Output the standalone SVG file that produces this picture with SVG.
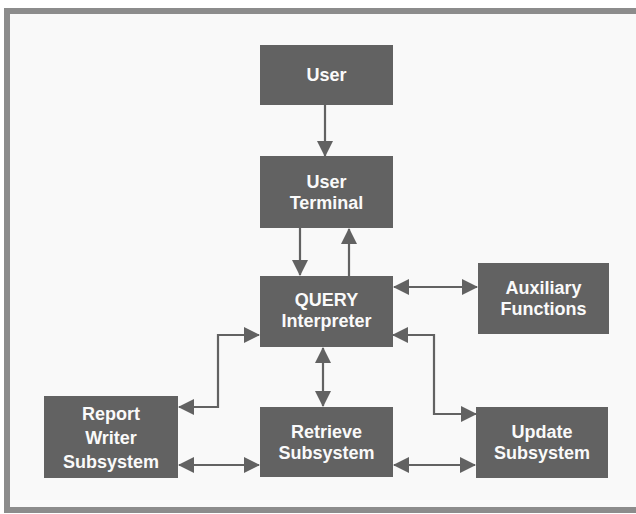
<svg xmlns="http://www.w3.org/2000/svg" width="636" height="514" viewBox="0 0 636 514">
<style>
.box{fill:#626262;}
.lbl{font-family:"Liberation Sans",Arial,sans-serif;font-weight:bold;font-size:18px;fill:#fafafa;text-anchor:middle;}
.c{fill:none;stroke:#626262;stroke-width:2.2;marker-end:url(#ah);}
.b{marker-start:url(#ah);}
</style>
<defs>
<marker id="ah" markerUnits="userSpaceOnUse" markerWidth="16" markerHeight="16" refX="15" refY="8" orient="auto-start-reverse">
<path d="M0,0 L16,8 L0,16 z" fill="#626262"/>
</marker>
</defs>
<rect x="0" y="0" width="636" height="514" fill="#ffffff"/>
<rect x="7" y="11" width="640" height="499" fill="#f9f9f9" stroke="#8c8c8c" stroke-width="6"/>
<g id="connectors">
<path class="c" d="M325,105 V156"/>
<path class="c" d="M300,228 V275"/>
<path class="c" d="M349,276 V229"/>
<path class="c b" d="M394,287 H477"/>
<path class="c b" d="M259,335 H218 V407 H179"/>
<path class="c b" d="M393,335 H434 V414 H476"/>
<path class="c b" d="M323,348 V406"/>
<path class="c b" d="M179,465 H259"/>
<path class="c b" d="M394,465 H475"/>
</g>
<g id="user"><rect class="box" x="260" y="45" width="133" height="60"/><text class="lbl" x="326.5" y="81">User</text></g>
<g id="terminal"><rect class="box" x="260" y="156" width="133" height="72"/><text class="lbl" x="326.5" y="188">User</text><text class="lbl" x="326.5" y="209">Terminal</text></g>
<g id="query"><rect class="box" x="260" y="276" width="133" height="71"/><text class="lbl" x="326.5" y="306">QUERY</text><text class="lbl" x="326.5" y="327">Interpreter</text></g>
<g id="aux"><rect class="box" x="478" y="263" width="131" height="71"/><text class="lbl" x="543.5" y="294">Auxiliary</text><text class="lbl" x="543.5" y="315">Functions</text></g>
<g id="report"><rect class="box" x="44" y="396" width="134" height="82"/><text class="lbl" x="111" y="420">Report</text><text class="lbl" x="111" y="444">Writer</text><text class="lbl" x="111" y="468">Subsystem</text></g>
<g id="retrieve"><rect class="box" x="260" y="407" width="133" height="70"/><text class="lbl" x="326.5" y="438">Retrieve</text><text class="lbl" x="326.5" y="459">Subsystem</text></g>
<g id="update"><rect class="box" x="476" y="407" width="132" height="71"/><text class="lbl" x="542" y="438">Update</text><text class="lbl" x="542" y="459">Subsystem</text></g>
</svg>
